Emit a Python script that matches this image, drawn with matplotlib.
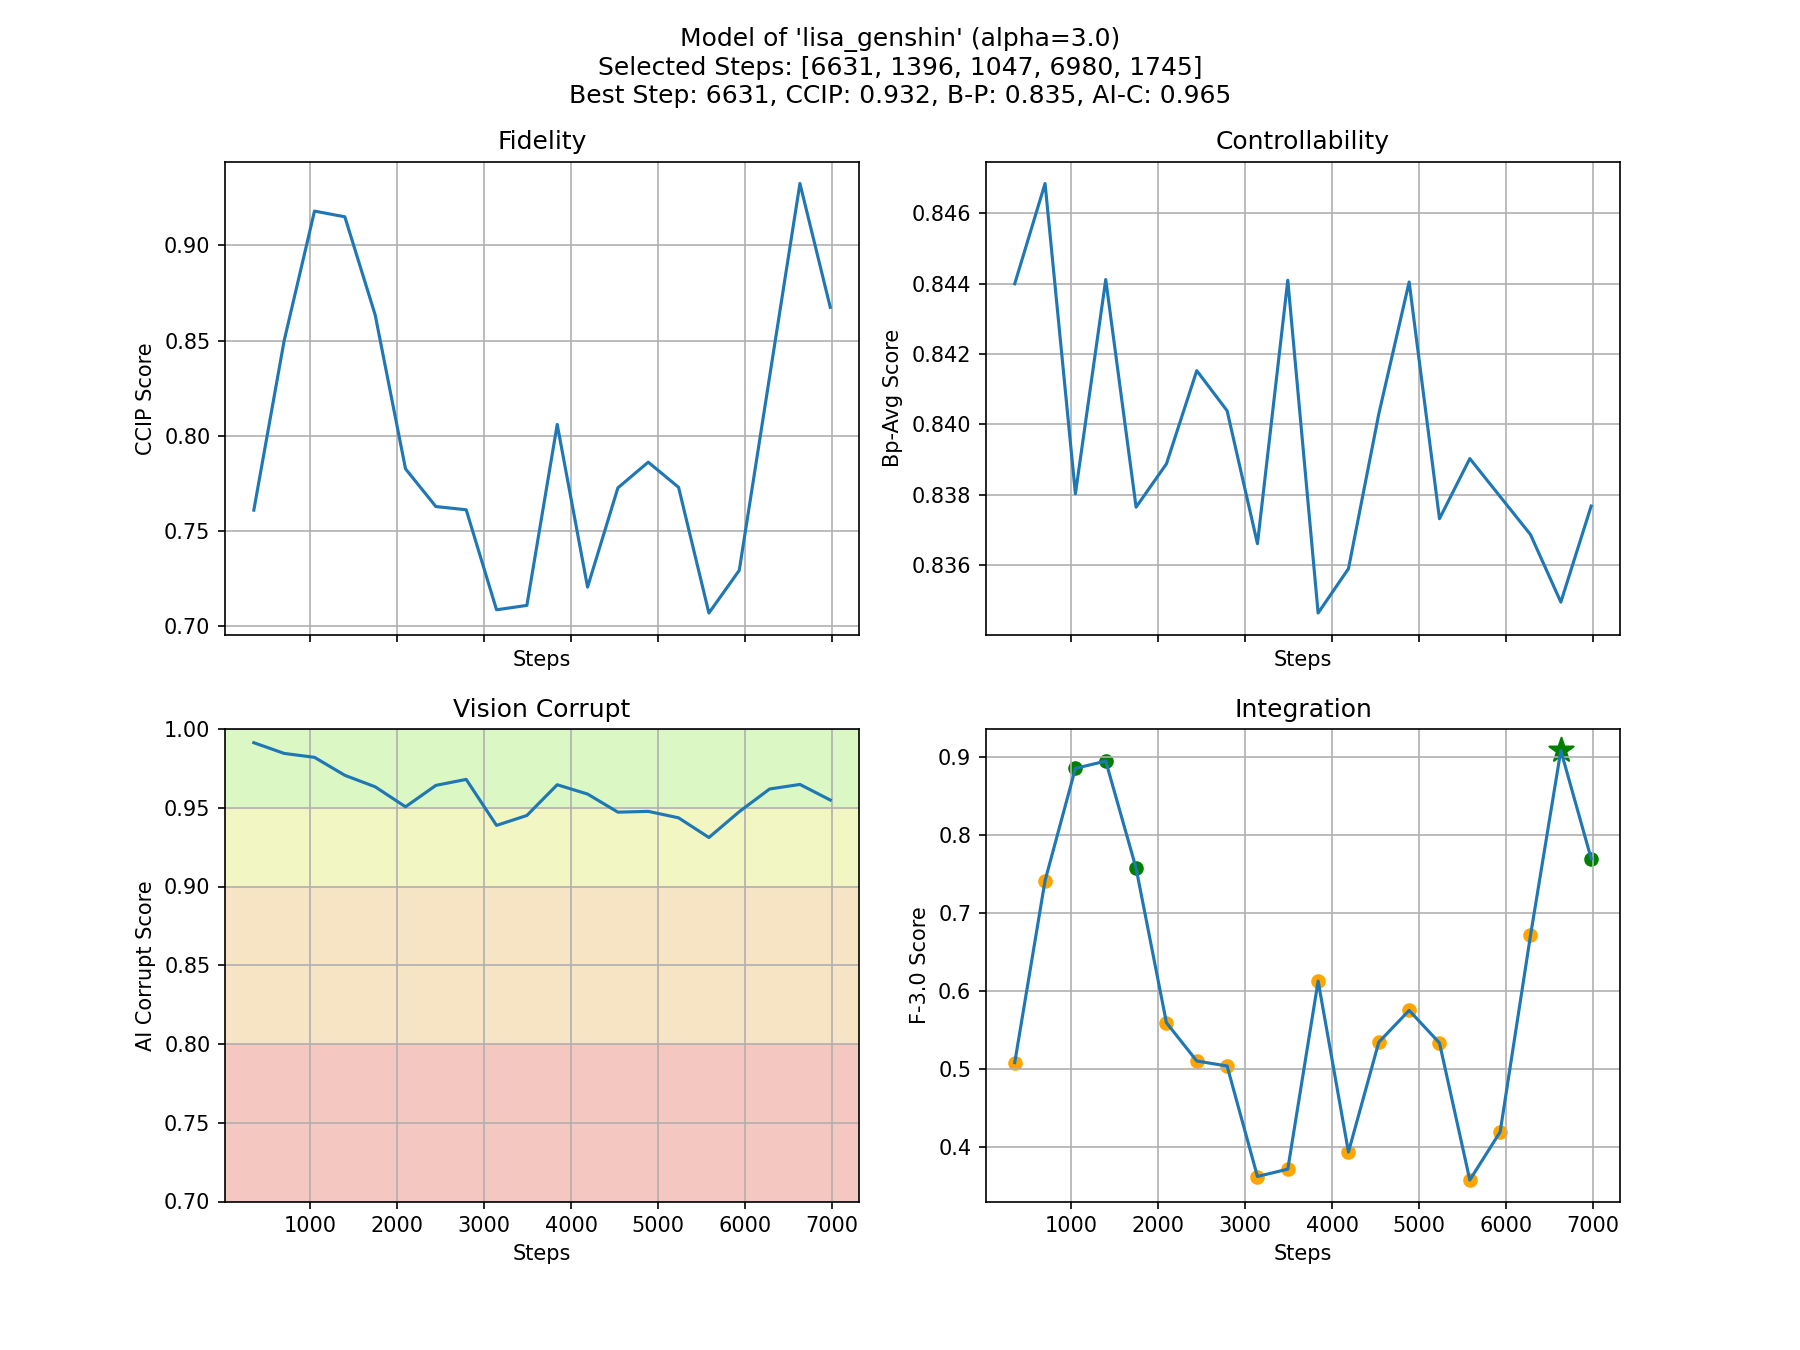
import matplotlib
matplotlib.use('Agg')
import matplotlib.pyplot as plt

# Data
steps = [349, 698, 1047, 1396, 1745, 2094, 2443, 2792, 3141, 3490,
         3839, 4188, 4537, 4886, 5235, 5584, 5933, 6282, 6631, 6980]

ccip = [0.761, 0.850, 0.918, 0.915, 0.8635, 0.7827, 0.7629, 0.7612, 0.7087, 0.711,
        0.806, 0.7206, 0.7727, 0.7862, 0.773, 0.707, 0.7294, 0.831, 0.9325, 0.8675]

bp = [0.8440, 0.84685, 0.83803, 0.84412, 0.83765, 0.83888, 0.84153, 0.84039, 0.83661, 0.8441,
      0.83464, 0.8359, 0.8403, 0.84405, 0.83732, 0.83903, 0.83795, 0.83687, 0.83495, 0.83768]

aic = [0.9913, 0.9845, 0.982, 0.9706, 0.9633, 0.9506, 0.9642, 0.968, 0.9388, 0.9451,
       0.9646, 0.9587, 0.9472, 0.9477, 0.9436, 0.9311, 0.9475, 0.9619, 0.9648, 0.9549]

f_score = [0.5077, 0.7415, 0.8855, 0.8949, 0.7573, 0.559, 0.5098, 0.5034, 0.3615, 0.371,
           0.6124, 0.393, 0.534, 0.5748, 0.533, 0.357, 0.4188, 0.671, 0.9085, 0.7697]

selected_steps = [6631, 1396, 1047, 6980, 1745]
best_step = 6631

# Vision corrupt bands: (low, high, colour)
bands = [(0.95, 1.0, '#dbf7c4'), (0.9, 0.95, '#f2f6c2'),
         (0.8, 0.9, '#f6e4c4'), (0.7, 0.8, '#f5c7c1')]

fig, axes = plt.subplots(2, 2, figsize=(12, 9), sharex=True)
fig.suptitle("Model of 'lisa_genshin' (alpha=3.0)\n"
             "Selected Steps: [6631, 1396, 1047, 6980, 1745]\n"
             "Best Step: 6631, CCIP: 0.932, B-P: 0.835, AI-C: 0.965")

ax = axes[0, 0]
ax.plot(steps, ccip)
ax.set_title('Fidelity')
ax.set_xlabel('Steps')
ax.set_ylabel('CCIP Score')
ax.grid()

ax = axes[0, 1]
ax.plot(steps, bp)
ax.set_title('Controllability')
ax.set_xlabel('Steps')
ax.set_ylabel('Bp-Avg Score')
ax.grid()

ax = axes[1, 0]
for lo, hi, c in bands:
    ax.axhspan(lo, hi, facecolor=c)
ax.plot(steps, aic)
ax.set_ylim(0.7, 1.0)
ax.set_title('Vision Corrupt')
ax.set_xlabel('Steps')
ax.set_ylabel('AI Corrupt Score')
ax.grid()

ax = axes[1, 1]
colors = ['green' if s in selected_steps else 'orange' for s in steps]
for s, v, c in zip(steps, f_score, colors):
    if s == best_step:
        ax.scatter([s], [v], c=c, marker='*', s=150)
    else:
        ax.scatter([s], [v], c=c)
ax.plot(steps, f_score)
ax.set_title('Integration')
ax.set_xlabel('Steps')
ax.set_ylabel('F-3.0 Score')
ax.grid()

plt.savefig('out.png', dpi=150)
